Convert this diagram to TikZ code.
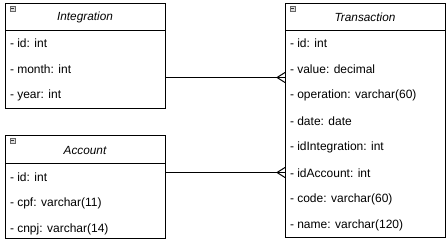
\documentclass[tikz,border=0pt]{standalone}
\usepackage{fontspec}
\setmainfont{Liberation Sans}
\begin{document}
\begin{tikzpicture}[x=1pt,y=-1pt,line width=1pt,
  classbox/.style={draw=black,line width=1pt,minimum width=159.5pt,inner sep=0pt,anchor=north west},
  ctitle/.style={font=\fontsize{11.8}{13}\selectfont\itshape,anchor=center},
  attr/.style={font=\fontsize{12}{14}\selectfont,anchor=west,inner sep=0pt},
  foldicon/.pic={
    \filldraw[fill=gray!25,draw=gray!80!black,line width=0.6pt] (0,0) rectangle (5.5,5.5);
    \draw[line width=1pt,black!80] (1.3,2.75) -- (4.2,2.75);
  }]
\useasboundingbox (0,0) rectangle (447,244);

% class boxes
\node[classbox,minimum height=105pt] (integ) at (5,3) {};
\node[classbox,minimum height=103pt] (acct) at (5,135) {};
\node[classbox,minimum height=234pt] (trans) at (285,3) {};

% header separators
\draw (integ.north west) ++(0,27.5) coordinate (ih) -- (ih -| integ.east);
\draw (acct.north west) ++(0,28) coordinate (ah) -- (ah -| acct.east);
\draw (trans.north west) ++(0,27.5) coordinate (th) -- (th -| trans.east);

% titles
\node[ctitle] (integT) at (85,17) {Integration};
\node[ctitle] (acctT) at (85,150) {Account};
\node[ctitle] (transT) at (365,17) {Transaction};

% collapse icons
\pic at (10,6) {foldicon};
\pic at (10,138) {foldicon};
\pic at (290,6) {foldicon};

% attributes
\foreach \t [count=\i from 0] in {- id: int,- month: int,- year: int}
  \node[attr] (ia\i) at (9.5,43.5+26*\i) {\t};
\foreach \t [count=\i from 0] in {- id: int,- cpf: varchar(11),- cnpj: varchar(14)}
  \node[attr] (aa\i) at (9.5,177+26*\i) {\t};
\foreach \t [count=\i from 0] in {- id: int,- value: decimal,- operation: varchar(60),- date: date,- idIntegration: int,- idAccount: int,- code: varchar(60),- name: varchar(120)}
  \node[attr] (ta\i) at (289.5,43.5+26*\i) {\t};

% relations with crow's foot ends at Transaction
\coordinate (r1) at (0,77.5);
\coordinate (r2) at (0,172.5);
\draw (integ.east |- r1) -- (trans.west |- r1) coordinate (e1);
\draw (acct.east |- r2) -- (trans.west |- r2) coordinate (e2);
\foreach \e in {e1,e2}
  \draw ([xshift=-8pt]\e) -- ([yshift=-5pt]\e) ([xshift=-8pt]\e) -- ([yshift=5pt]\e);
\end{tikzpicture}
\end{document}
